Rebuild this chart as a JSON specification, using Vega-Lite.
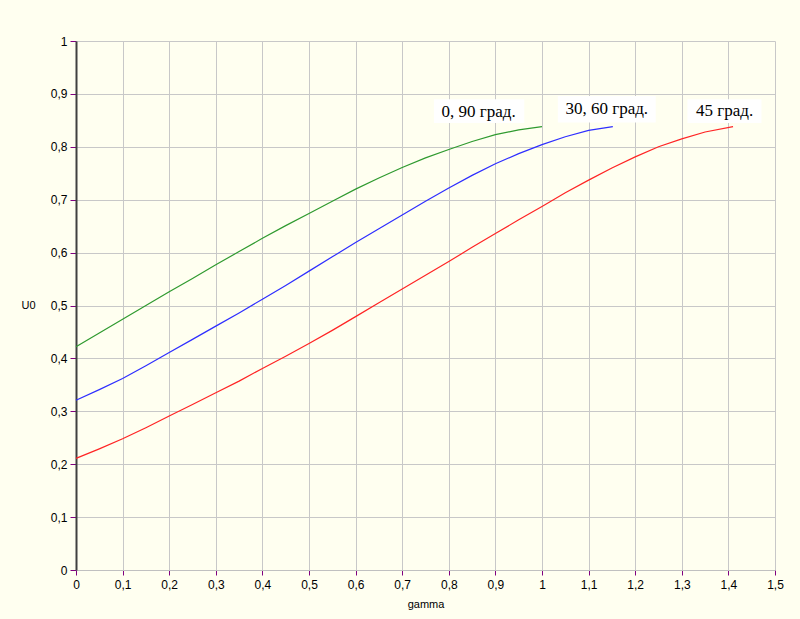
{
  "$schema": "https://vega.github.io/schema/vega-lite/v6.json",
  "width": 699,
  "height": 529,
  "autosize": {"type": "none"},
  "padding": {"left": 76, "top": 41, "right": 25, "bottom": 49},
  "background": "#FFFFF0",
  "config": {"view": {"stroke": null}},
  "datasets": {
    "curves": [
      {"series": "0, 90", "gamma": 0, "U0": 0.422},
      {"series": "0, 90", "gamma": 0.05, "U0": 0.448},
      {"series": "0, 90", "gamma": 0.1, "U0": 0.474},
      {"series": "0, 90", "gamma": 0.15, "U0": 0.5},
      {"series": "0, 90", "gamma": 0.2, "U0": 0.526},
      {"series": "0, 90", "gamma": 0.25, "U0": 0.551},
      {"series": "0, 90", "gamma": 0.3, "U0": 0.577},
      {"series": "0, 90", "gamma": 0.35, "U0": 0.602},
      {"series": "0, 90", "gamma": 0.4, "U0": 0.627},
      {"series": "0, 90", "gamma": 0.45, "U0": 0.651},
      {"series": "0, 90", "gamma": 0.5, "U0": 0.674},
      {"series": "0, 90", "gamma": 0.55, "U0": 0.697},
      {"series": "0, 90", "gamma": 0.6, "U0": 0.72},
      {"series": "0, 90", "gamma": 0.65, "U0": 0.741},
      {"series": "0, 90", "gamma": 0.7, "U0": 0.761},
      {"series": "0, 90", "gamma": 0.75, "U0": 0.779},
      {"series": "0, 90", "gamma": 0.8, "U0": 0.795},
      {"series": "0, 90", "gamma": 0.85, "U0": 0.81},
      {"series": "0, 90", "gamma": 0.9, "U0": 0.823},
      {"series": "0, 90", "gamma": 0.95, "U0": 0.832},
      {"series": "0, 90", "gamma": 1.0, "U0": 0.838},
      {"series": "30, 60", "gamma": 0, "U0": 0.321},
      {"series": "30, 60", "gamma": 0.05, "U0": 0.341},
      {"series": "30, 60", "gamma": 0.1, "U0": 0.362},
      {"series": "30, 60", "gamma": 0.15, "U0": 0.386},
      {"series": "30, 60", "gamma": 0.2, "U0": 0.411},
      {"series": "30, 60", "gamma": 0.25, "U0": 0.436},
      {"series": "30, 60", "gamma": 0.3, "U0": 0.461},
      {"series": "30, 60", "gamma": 0.35, "U0": 0.486},
      {"series": "30, 60", "gamma": 0.4, "U0": 0.512},
      {"series": "30, 60", "gamma": 0.45, "U0": 0.538},
      {"series": "30, 60", "gamma": 0.5, "U0": 0.565},
      {"series": "30, 60", "gamma": 0.55, "U0": 0.592},
      {"series": "30, 60", "gamma": 0.6, "U0": 0.619},
      {"series": "30, 60", "gamma": 0.65, "U0": 0.645},
      {"series": "30, 60", "gamma": 0.7, "U0": 0.671},
      {"series": "30, 60", "gamma": 0.75, "U0": 0.697},
      {"series": "30, 60", "gamma": 0.8, "U0": 0.722},
      {"series": "30, 60", "gamma": 0.85, "U0": 0.746},
      {"series": "30, 60", "gamma": 0.9, "U0": 0.768},
      {"series": "30, 60", "gamma": 0.95, "U0": 0.787},
      {"series": "30, 60", "gamma": 1.0, "U0": 0.804},
      {"series": "30, 60", "gamma": 1.05, "U0": 0.819},
      {"series": "30, 60", "gamma": 1.1, "U0": 0.831},
      {"series": "30, 60", "gamma": 1.152, "U0": 0.838},
      {"series": "45", "gamma": 0, "U0": 0.211},
      {"series": "45", "gamma": 0.05, "U0": 0.229},
      {"series": "45", "gamma": 0.1, "U0": 0.248},
      {"series": "45", "gamma": 0.15, "U0": 0.269},
      {"series": "45", "gamma": 0.2, "U0": 0.291},
      {"series": "45", "gamma": 0.25, "U0": 0.313},
      {"series": "45", "gamma": 0.3, "U0": 0.335},
      {"series": "45", "gamma": 0.35, "U0": 0.357},
      {"series": "45", "gamma": 0.4, "U0": 0.381},
      {"series": "45", "gamma": 0.45, "U0": 0.404},
      {"series": "45", "gamma": 0.5, "U0": 0.428},
      {"series": "45", "gamma": 0.55, "U0": 0.453},
      {"series": "45", "gamma": 0.6, "U0": 0.479},
      {"series": "45", "gamma": 0.65, "U0": 0.505},
      {"series": "45", "gamma": 0.7, "U0": 0.531},
      {"series": "45", "gamma": 0.75, "U0": 0.557},
      {"series": "45", "gamma": 0.8, "U0": 0.583},
      {"series": "45", "gamma": 0.85, "U0": 0.61},
      {"series": "45", "gamma": 0.9, "U0": 0.636},
      {"series": "45", "gamma": 0.95, "U0": 0.662},
      {"series": "45", "gamma": 1.0, "U0": 0.687},
      {"series": "45", "gamma": 1.05, "U0": 0.713},
      {"series": "45", "gamma": 1.1, "U0": 0.737},
      {"series": "45", "gamma": 1.15, "U0": 0.76},
      {"series": "45", "gamma": 1.2, "U0": 0.781},
      {"series": "45", "gamma": 1.25, "U0": 0.8},
      {"series": "45", "gamma": 1.3, "U0": 0.815},
      {"series": "45", "gamma": 1.35, "U0": 0.828},
      {"series": "45", "gamma": 1.41, "U0": 0.838}
    ],
    "labels": [
      {"text": "0, 90 град.", "gamma": 0.864, "U0": 0.8665, "gamma_lo": 0.768, "gamma_hi": 0.962, "U0_lo": 0.845, "U0_hi": 0.89},
      {"text": "30, 60 град.", "gamma": 1.139, "U0": 0.871, "gamma_lo": 1.034, "gamma_hi": 1.244, "U0_lo": 0.846, "U0_hi": 0.896},
      {"text": "45 град.", "gamma": 1.392, "U0": 0.8675, "gamma_lo": 1.312, "gamma_hi": 1.471, "U0_lo": 0.845, "U0_hi": 0.89}
    ]
  },
  "layer": [
    {
      "data": {"name": "curves"},
      "mark": {"type": "line", "strokeWidth": 1.2},
      "encoding": {
        "x": {
          "field": "gamma",
          "type": "quantitative",
          "scale": {"domain": [0, 1.5], "nice": false, "zero": false},
          "axis": {
            "title": "gamma",
            "titleFont": "Liberation Sans",
            "titleFontSize": 11,
            "titleFontWeight": "normal",
            "titleColor": "#000000",
            "titleY": 34,
            "titleBaseline": "middle",
            "values": [0, 0.05, 0.1, 0.15, 0.2, 0.25, 0.3, 0.35, 0.4, 0.45, 0.5, 0.55, 0.6, 0.65, 0.7, 0.75, 0.8, 0.85, 0.9, 0.95, 1, 1.05, 1.1, 1.15, 1.2, 1.25, 1.3, 1.35, 1.4, 1.45, 1.5],
            "labelExpr": "round(datum.value*100)%10==0 ? replace(format(datum.value,'.1~f'),'.',',') : ''",
            "labelFont": "Liberation Sans",
            "labelFontSize": 12,
            "labelColor": "#000000",
            "labelPadding": 4,
            "labelFlush": false,
            "labelOverlap": false,
            "grid": true,
            "gridColor": {"condition": {"test": "round(datum.value*100)%10!=0", "value": "transparent"}, "value": "#C8C8C8"},
            "gridWidth": 1,
            "tickColor": "#800080",
            "tickSize": {"condition": {"test": "round(datum.value*100)%10!=0", "value": 3}, "value": 5},
            "tickWidth": 1,
            "domainColor": "#C0C0C0",
            "domainWidth": 1
          }
        },
        "y": {
          "field": "U0",
          "type": "quantitative",
          "scale": {"domain": [0, 1], "nice": false},
          "axis": {
            "title": "U0",
            "titleFont": "Liberation Sans",
            "titleFontSize": 11,
            "titleFontWeight": "normal",
            "titleColor": "#000000",
            "titleAngle": 0,
            "titleX": -48,
            "titleY": 264,
            "titleAlign": "center",
            "titleBaseline": "middle",
            "values": [0, 0.05, 0.1, 0.15, 0.2, 0.25, 0.3, 0.35, 0.4, 0.45, 0.5, 0.55, 0.6, 0.65, 0.7, 0.75, 0.8, 0.85, 0.9, 0.95, 1],
            "labelExpr": "round(datum.value*100)%10==0 ? replace(format(datum.value,'.1~f'),'.',',') : ''",
            "labelFont": "Liberation Sans",
            "labelFontSize": 12,
            "labelColor": "#000000",
            "labelPadding": 3,
            "labelFlush": false,
            "labelOverlap": false,
            "grid": true,
            "gridColor": {"condition": {"test": "round(datum.value*100)%10!=0", "value": "transparent"}, "value": "#C8C8C8"},
            "gridWidth": 1,
            "tickColor": "#800080",
            "tickSize": {"condition": {"test": "round(datum.value*100)%10!=0", "value": 3}, "value": 6},
            "tickWidth": 1,
            "domainColor": "#404040",
            "domainWidth": 2
          }
        },
        "color": {
          "field": "series",
          "type": "nominal",
          "scale": {"domain": ["0, 90", "30, 60", "45"], "range": ["#2F9A2F", "#2E2EFF", "#FF2424"]},
          "legend": null
        }
      }
    },
    {
      "data": {"name": "labels"},
      "mark": {"type": "rect", "fill": "#FFFFFF"},
      "encoding": {
        "x": {"field": "gamma_lo", "type": "quantitative"},
        "x2": {"field": "gamma_hi"},
        "y": {"field": "U0_lo", "type": "quantitative"},
        "y2": {"field": "U0_hi"}
      }
    },
    {
      "data": {"name": "labels"},
      "mark": {"type": "text", "font": "Liberation Serif", "fontSize": 17, "color": "#000000", "align": "center", "baseline": "middle"},
      "encoding": {
        "x": {"field": "gamma", "type": "quantitative"},
        "y": {"field": "U0", "type": "quantitative"},
        "text": {"field": "text"}
      }
    }
  ]
}
